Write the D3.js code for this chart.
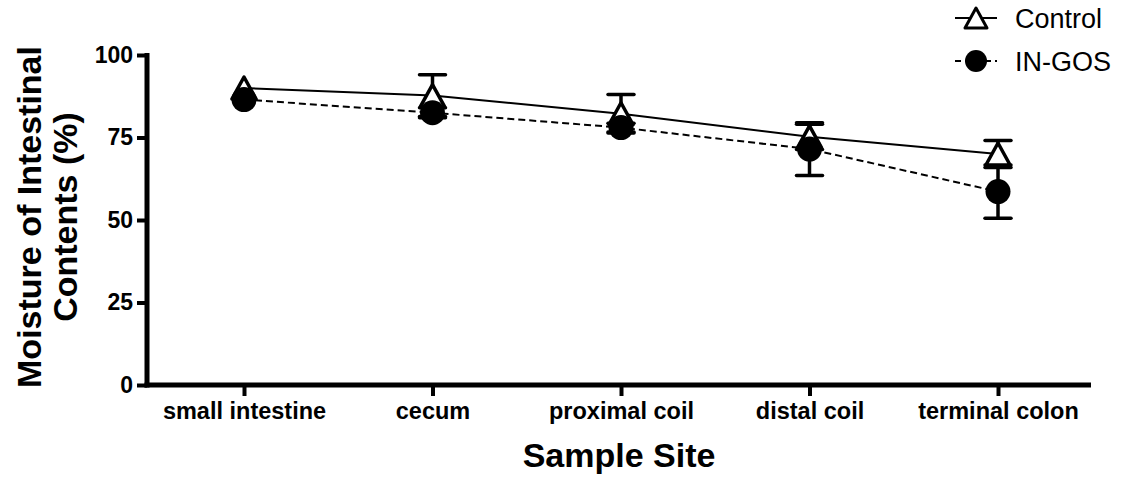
<!DOCTYPE html>
<html>
<head>
<meta charset="utf-8">
<script src="https://cdn.jsdelivr.net/npm/d3@7/dist/d3.min.js"></script>
<style>
  body { margin: 0; background: #fff; }
  svg, svg text { font-family: "Liberation Sans", Arial, sans-serif; }
</style>
</head>
<body>
<div id="chart"></div>
<script>
(function() {
  var sites = ['small intestine', 'cecum', 'proximal coil', 'distal coil', 'terminal colon'];
  var control_mean = [90, 87.7, 82.2, 75.2, 70];
  var control_err = [0.4, 6.3, 5.8, 3.8, 4.1];
  var gos_mean = [86.5, 82.5, 78, 71.5, 58.6];
  var gos_err = [0.4, 1.5, 1.3, 8, 8.1];
  var y_ticks = [0, 25, 50, 75, 100];

  var width = 1122, height = 485;
  var font = '"Liberation Sans", Arial, sans-serif';

  var svg = d3.select('#chart').append('svg')
    .attr('width', width)
    .attr('height', height);

  var x = d3.scalePoint().domain(sites).range([244, 998]);
  var y = d3.scaleLinear().domain([0, 100]).range([385, 55]);
  var axis_left = 147, axis_right = 1091;

  // y axis
  var yAxis = d3.axisLeft(y).tickValues(y_ticks).tickSize(10).tickPadding(4);
  var gy = svg.append('g').attr('transform', 'translate(' + axis_left + ',0)').call(yAxis)
    .attr('font-family', font);
  gy.select('.domain').remove();
  gy.selectAll('.tick line').attr('stroke', '#000').attr('stroke-width', 4);
  gy.selectAll('.tick text')
    .attr('fill', '#000')
    .attr('font-size', '23px')
    .attr('font-weight', 'bold');
  svg.append('line')
    .attr('x1', axis_left).attr('x2', axis_left)
    .attr('y1', y(100) - 2).attr('y2', y(0) + 2.5)
    .attr('stroke', '#000').attr('stroke-width', 5);

  // x axis
  var xAxis = d3.axisBottom(x).tickSize(11).tickPadding(6);
  var gx = svg.append('g').attr('transform', 'translate(0,' + y(0) + ')').call(xAxis)
    .attr('font-family', font);
  gx.select('.domain').remove();
  gx.selectAll('.tick line').attr('stroke', '#000').attr('stroke-width', 4);
  gx.selectAll('.tick text')
    .attr('fill', '#000')
    .attr('font-size', '23.5px')
    .attr('font-weight', 'bold');
  svg.append('line')
    .attr('x1', axis_left - 2.5).attr('x2', axis_right)
    .attr('y1', y(0)).attr('y2', y(0))
    .attr('stroke', '#000').attr('stroke-width', 5);

  // axis titles
  svg.append('text')
    .attr('x', (axis_left + axis_right) / 2)
    .attr('y', 467)
    .attr('text-anchor', 'middle')
    .attr('font-size', '34px')
    .attr('font-weight', 'bold')
    .text('Sample Site');

  var ytitle = svg.append('text')
    .attr('transform', 'translate(0,217) rotate(-90)')
    .attr('text-anchor', 'middle')
    .attr('font-size', '34px')
    .attr('font-weight', 'bold');
  ytitle.append('tspan').attr('x', 0).attr('y', 41).text('Moisture of Intestinal');
  ytitle.append('tspan').attr('x', 0).attr('y', 77).text('Contents (%)');

  var tri = function(s) {
    return 'M0,' + (-s) + 'L' + (s * 1.1) + ',' + s + 'L' + (-s * 1.1) + ',' + s + 'Z';
  };

  // bars shorter than the symbol stay hidden, like the original
  var errorBars = function(means, errs) {
    var g = svg.append('g');
    sites.forEach(function(s, i) {
      if (errs[i] < 1) return;
      var cx = x(s), top = y(means[i] + errs[i]), bot = y(means[i] - errs[i]);
      g.append('line').attr('x1', cx).attr('x2', cx).attr('y1', top).attr('y2', bot)
        .attr('stroke', '#000').attr('stroke-width', 3.5);
      [top, bot].forEach(function(yy) {
        g.append('line').attr('x1', cx - 13).attr('x2', cx + 13).attr('y1', yy).attr('y2', yy)
          .attr('stroke', '#000').attr('stroke-width', 3.5).attr('stroke-linecap', 'round');
      });
    });
  };

  errorBars(control_mean, control_err);
  errorBars(gos_mean, gos_err);

  var line = d3.line()
    .x(function(d, i) { return x(sites[i]); })
    .y(function(d) { return y(d); });

  svg.append('path').datum(control_mean)
    .attr('d', line)
    .attr('fill', 'none').attr('stroke', '#000').attr('stroke-width', 2);

  svg.append('path').datum(gos_mean)
    .attr('d', line)
    .attr('fill', 'none').attr('stroke', '#000').attr('stroke-width', 2)
    .attr('stroke-dasharray', '7,4');

  svg.selectAll('path.tri').data(control_mean).enter().append('path')
    .attr('class', 'tri')
    .attr('d', tri(11))
    .attr('transform', function(d, i) { return 'translate(' + x(sites[i]) + ',' + y(d) + ')'; })
    .attr('fill', '#fff').attr('stroke', '#000').attr('stroke-width', 3.5)
    .attr('stroke-linejoin', 'round');

  svg.selectAll('circle.gos').data(gos_mean).enter().append('circle')
    .attr('class', 'gos')
    .attr('cx', function(d, i) { return x(sites[i]); })
    .attr('cy', function(d) { return y(d); })
    .attr('r', 12.5)
    .attr('fill', '#000');

  // legend
  var legend = svg.append('g');
  var lx = 976;
  legend.append('line').attr('x1', lx - 21).attr('x2', lx + 21).attr('y1', 18).attr('y2', 18)
    .attr('stroke', '#000').attr('stroke-width', 2);
  legend.append('path').attr('d', tri(10)).attr('transform', 'translate(' + lx + ',18)')
    .attr('fill', '#fff').attr('stroke', '#000').attr('stroke-width', 3).attr('stroke-linejoin', 'round');
  legend.append('text').attr('x', 1015).attr('y', 28).attr('font-size', '27px').text('Control');

  legend.append('line').attr('x1', lx - 21).attr('x2', lx + 21).attr('y1', 61).attr('y2', 61)
    .attr('stroke', '#000').attr('stroke-width', 2).attr('stroke-dasharray', '6,4');
  legend.append('circle').attr('cx', lx).attr('cy', 61).attr('r', 11).attr('fill', '#000');
  legend.append('text').attr('x', 1015).attr('y', 71).attr('font-size', '27px').text('IN-GOS');
})();
</script>
</body>
</html>
